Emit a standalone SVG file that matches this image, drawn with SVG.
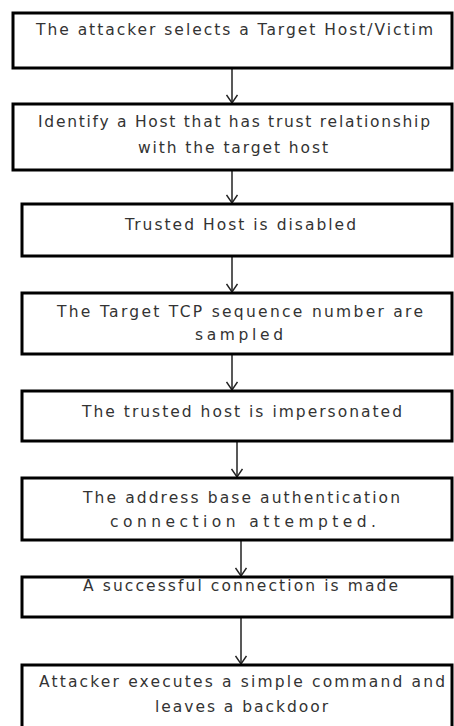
<svg xmlns="http://www.w3.org/2000/svg" width="454" height="726" viewBox="0 0 454 726">
<style>
.box{fill:#fff;stroke:#000;stroke-width:3}
.t{font-family:"DejaVu Sans","Noto Sans",sans-serif;font-size:15.5px;fill:#333;text-anchor:middle}
.c{stroke:#222;stroke-width:1.5;fill:none;marker-end:url(#v)}
</style>
<defs>
<marker id="v" viewBox="-10 -6 12 12" markerWidth="12" markerHeight="12" refX="0" refY="0" orient="auto" markerUnits="userSpaceOnUse">
<path d="M-8,-5.5 L0,0 L-8,5.5" fill="none" stroke="#222" stroke-width="1.5"/>
</marker>
</defs>
<rect width="454" height="726" fill="#fff"/>
<g id="connectors">
<line class="c" x1="232" y1="69" x2="232" y2="103"/>
<line class="c" x1="232" y1="171" x2="232" y2="203"/>
<line class="c" x1="232" y1="257" x2="232" y2="292"/>
<line class="c" x1="232" y1="355" x2="232" y2="390"/>
<line class="c" x1="237" y1="442" x2="237" y2="477"/>
<line class="c" x1="241" y1="541" x2="241" y2="576"/>
<line class="c" x1="241" y1="618" x2="241" y2="664"/>
</g>
<g id="n1"><rect class="box" x="13" y="13" width="439" height="55"/>
<text class="t" x="234.5" y="35" textLength="397" lengthAdjust="spacing">The attacker selects a Target Host/Victim</text></g>
<g id="n2"><rect class="box" x="13" y="104" width="439" height="66"/>
<text class="t" x="234" y="127" textLength="392" lengthAdjust="spacing">Identify a Host that has trust relationship</text>
<text class="t" x="233" y="153" textLength="190" lengthAdjust="spacing">with the target host</text></g>
<g id="n3"><rect class="box" x="22" y="204" width="430" height="52"/>
<text class="t" x="240.5" y="230" textLength="231" lengthAdjust="spacing">Trusted Host is disabled</text></g>
<g id="n4"><rect class="box" x="22" y="293" width="430" height="61"/>
<text class="t" x="240" y="317" textLength="366" lengthAdjust="spacing">The Target TCP sequence number are</text>
<text class="t" x="239" y="340" textLength="88" lengthAdjust="spacing">sampled</text></g>
<g id="n5"><rect class="box" x="22" y="391" width="430" height="50"/>
<text class="t" x="242" y="417" textLength="320" lengthAdjust="spacing">The trusted host is impersonated</text></g>
<g id="n6"><rect class="box" x="22" y="478" width="430" height="62"/>
<text class="t" x="241.5" y="503" textLength="317" lengthAdjust="spacing">The address base authentication</text>
<text class="t" x="243" y="527" textLength="266" lengthAdjust="spacing">connection attempted.</text></g>
<g id="n7"><rect class="box" x="22" y="577" width="430" height="40"/>
<text class="t" x="240.5" y="591" textLength="315" lengthAdjust="spacing">A successful connection is made</text></g>
<g id="n8"><rect class="box" x="22" y="665" width="430" height="75"/>
<text class="t" x="242" y="687" textLength="406" lengthAdjust="spacing">Attacker executes a simple command and</text>
<text class="t" x="241.5" y="712" textLength="173" lengthAdjust="spacing">leaves a backdoor</text></g>
</svg>
